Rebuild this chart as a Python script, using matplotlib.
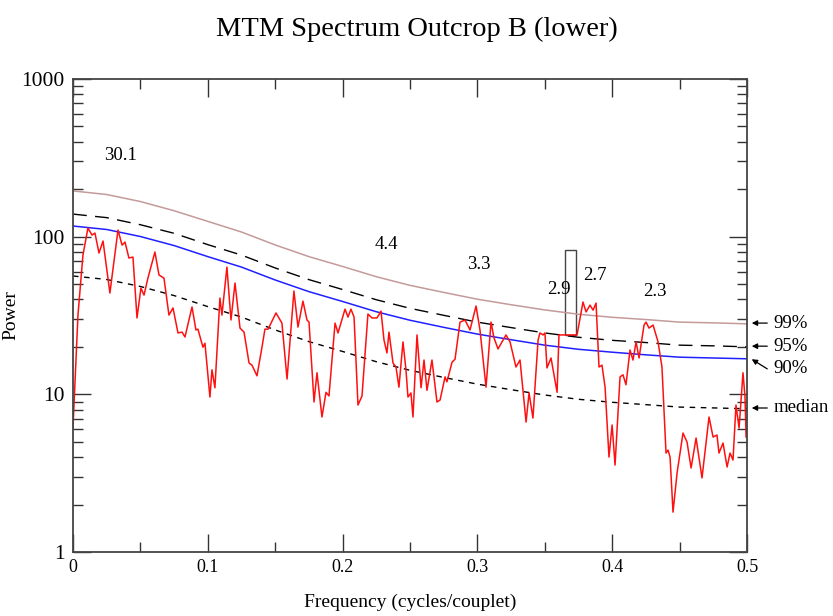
import numpy as np
import matplotlib
matplotlib.use("Agg")
import matplotlib.pyplot as plt
from matplotlib.ticker import FixedLocator, LogLocator, NullFormatter

plt.rcParams['font.family'] = ['Liberation Serif', 'DejaVu Serif']

# smooth red-noise confidence curves, read every 0.025 cycles/couplet
conf_freq = [0.0, 0.025, 0.05, 0.075, 0.1, 0.125, 0.15, 0.175, 0.2, 0.225, 0.25,
             0.275, 0.3, 0.325, 0.35, 0.375, 0.4, 0.425, 0.45, 0.475, 0.5]
median_lvl = [56.3, 53.5, 48.3, 42.3, 36.0, 30.9, 25.6, 21.6, 18.7, 16.1, 14.2,
              12.8, 11.6, 10.7, 9.9, 9.3, 8.9, 8.6, 8.3, 8.2, 8.1]
conf90 = [116.8, 111.0, 100.2, 87.8, 74.7, 64.1, 53.1, 44.8, 38.8, 33.4, 29.5,
          26.6, 24.1, 22.2, 20.5, 19.3, 18.5, 17.8, 17.2, 17.0, 16.8]
conf95 = [139, 132, 119, 105, 89, 76.4, 63.3, 53.4, 46.2, 39.8, 35.1,
          31.7, 28.7, 26.5, 24.5, 23.0, 22.0, 21.3, 20.5, 20.3, 20.0]
conf99 = [195, 185, 167, 146, 125, 107, 88.6, 74.7, 64.7, 55.7, 49.1,
          44.3, 40.1, 37.0, 34.3, 32.2, 30.8, 29.8, 28.7, 28.4, 28.0]

# MTM spectrum (red)
spec_freq = [
    0.0, 0.0037, 0.0074, 0.0111, 0.0141, 0.0163, 0.0193, 0.0223, 0.0274, 0.0334,
    0.0364, 0.0386, 0.0415, 0.0445, 0.0475, 0.0504, 0.0527, 0.0556, 0.0608, 0.0638,
    0.0675, 0.0712, 0.0742, 0.0779, 0.0809, 0.0831, 0.0883, 0.0912, 0.0927, 0.0964,
    0.0979, 0.1016, 0.1031, 0.1053, 0.1090, 0.1105, 0.1142, 0.1172, 0.1202, 0.1239,
    0.1269, 0.1306, 0.1328, 0.1365, 0.1402, 0.1424, 0.1447, 0.1506, 0.1550, 0.1588,
    0.1639, 0.1669, 0.1706, 0.1736, 0.1751, 0.1788, 0.1810, 0.1847, 0.1877, 0.1899,
    0.1944, 0.1966, 0.2018, 0.2040, 0.2062, 0.2085, 0.2114, 0.2144, 0.2188, 0.2218,
    0.2255, 0.2285, 0.2307, 0.2329, 0.2344, 0.2374, 0.2396, 0.2418, 0.2448, 0.2470,
    0.2485, 0.2507, 0.2522, 0.2552, 0.2582, 0.2604, 0.2626, 0.2663, 0.2700, 0.2723,
    0.2760, 0.2774, 0.2812, 0.2834, 0.2871, 0.2908, 0.2945, 0.2990, 0.3019, 0.3064,
    0.3101, 0.3123, 0.3153, 0.3212, 0.3242, 0.3286, 0.3316, 0.3361, 0.3383, 0.3412,
    0.3450, 0.3464, 0.3487, 0.3501, 0.3516, 0.3546, 0.3591, 0.3605, 0.3739, 0.3783,
    0.3806, 0.3835, 0.3858, 0.3880, 0.3902, 0.3924, 0.3947, 0.3976, 0.3999, 0.4021,
    0.4058, 0.4080, 0.4102, 0.4132, 0.4154, 0.4177, 0.4199, 0.4236, 0.4251, 0.4273,
    0.4303, 0.4340, 0.4369, 0.4384, 0.4399, 0.4414, 0.4429, 0.4451, 0.4481, 0.4525,
    0.4555, 0.4585, 0.4622, 0.4666, 0.4718, 0.4748, 0.4777, 0.4792, 0.4822, 0.4852,
    0.4874, 0.4896, 0.4918, 0.4941, 0.4970, 0.4985, 0.4993]
spec_power = [
    6.11, 31.8, 76.4, 113.4, 102.4, 105.4, 78.7, 93.8, 43.9, 110.1,
    88.4, 92.4, 73.2, 74.2, 30.5, 47.2, 42.6, 54.6, 79.9, 57.1,
    54.6, 31.8, 35.3, 24.5, 24.8, 23.1, 35.8, 25.6, 25.9, 19.9,
    21.1, 9.61, 14.3, 11.0, 40.8, 31.8, 64.1, 29.6, 50.8, 26.3,
    24.8, 15.8, 15.3, 13.1, 19.9, 25.9, 25.9, 32.8, 28.3, 12.5,
    45.2, 26.7, 39.0, 29.6, 28.7, 8.94, 13.7, 7.18, 10.3, 9.76,
    28.3, 24.5, 34.7, 30.9, 34.7, 30.9, 8.55, 9.76, 32.3, 30.5,
    30.5, 33.7, 22.1, 18.3, 24.8, 15.8, 14.9, 11.1, 21.5, 14.3,
    9.61, 10.2, 7.18, 23.8, 11.0, 16.5, 10.6, 16.5, 8.94, 9.20,
    12.9, 12.0, 16.0, 16.7, 28.7, 29.6, 25.6, 36.3, 25.6, 11.1,
    28.7, 22.8, 19.4, 23.8, 21.5, 14.9, 16.5, 6.67, 10.2, 7.07,
    22.1, 24.5, 23.8, 24.5, 14.7, 17.0, 10.3, 23.8, 23.8, 38.5,
    33.3, 36.8, 34.2, 37.9, 14.9, 15.3, 11.1, 4.00, 6.39, 3.56,
    12.9, 13.3, 11.5, 19.1, 16.5, 21.5, 17.0, 27.5, 28.7, 26.3,
    27.5, 21.5, 14.9, 7.95, 4.24, 4.43, 4.00, 1.79, 3.17, 5.68,
    4.98, 3.41, 5.28, 2.95, 7.18, 5.36, 5.52, 4.24, 4.91, 3.46,
    4.24, 3.83, 8.55, 6.11, 13.7, 9.61, 5.36]

# period labels (couplets) placed above their peaks
period_text = ['30.1', '4.4', '3.3', '2.9', '2.7', '2.3']
period_freq = [0.0352, 0.2326, 0.3012, 0.3605, 0.3872, 0.4314]
period_power = [329, 89.8, 67.0, 45.9, 57.1, 45.2]

# outlined box near 0.37
box_freq = 0.369
box_low = 23.8
box_high = 82.2

level_names = ['99%', '95%', '90%', 'median']
level_arrow_y = [28.3, 20.2, 16.7, 8.19]
level_text_y = [28.3, 20.2, 14.5, 8.19]

fig = plt.figure(figsize=(8.33, 6.16), dpi=100)
ax = fig.add_axes([0.0876, 0.1039, 0.8092, 0.7679])

ax.plot(conf_freq, conf99, color='#c49a9a', lw=1.1)
ax.plot(conf_freq, conf95, color='black', lw=1.0, dashes=(10, 6))
ax.plot(conf_freq, conf90, color='#2020ff', lw=1.1)
ax.plot(conf_freq, median_lvl, color='black', lw=1.0, dashes=(4, 4))
ax.plot(spec_freq, spec_power, color='#ff1010', lw=1.1)

ax.bar(box_freq, box_high - box_low, bottom=box_low, width=0.0078,
       fill=False, edgecolor='#444444', lw=1.0)

for t, fx, py in zip(period_text, period_freq, period_power):
    ax.text(fx, py, t, ha='center', va='center', fontsize=13.5)

tr = ax.get_yaxis_transform()
for name, ya, yt in zip(level_names, level_arrow_y, level_text_y):
    ax.annotate('', xy=(1.007, ya), xycoords=tr, xytext=(1.03, yt), textcoords=tr,
                arrowprops=dict(arrowstyle='-|>', color='black', lw=0.9,
                                mutation_scale=8, shrinkA=0, shrinkB=0),
                annotation_clip=False)
    ax.text(1.039, yt, name, transform=tr, ha='left', va='center', fontsize=13.5,
            clip_on=False)

ax.set_yscale('log')
ax.set_xlim(0, 0.5)
ax.set_ylim(1, 1000)
ax.xaxis.set_major_locator(FixedLocator([0, 0.1, 0.2, 0.3, 0.4, 0.5]))
ax.xaxis.set_minor_locator(FixedLocator([0.05, 0.15, 0.25, 0.35, 0.45]))
ax.set_xticklabels(['0', '0.1', '0.2', '0.3', '0.4', '0.5'])
ax.yaxis.set_major_locator(FixedLocator([1, 10, 100, 1000]))
ax.set_yticklabels(['1', '10', '100', '1000'])
ax.yaxis.set_minor_locator(LogLocator(base=10, subs=np.arange(2, 10)))
ax.yaxis.set_minor_formatter(NullFormatter())

ax.tick_params(which='both', direction='in', top=True, right=True,
               color='#333333', labelsize=13, pad=5)
ax.tick_params(axis='y', labelsize=15.5, pad=6)
ax.tick_params(which='major', length=13, width=1.0)
ax.tick_params(which='minor', length=7, width=1.0)
for s in ax.spines.values():
    s.set_color('#444444')
    s.set_linewidth(1.3)

ax.set_xlabel('Frequency (cycles/couplet)', fontsize=14)
ax.xaxis.set_label_coords(0.5, -0.089)
ax.set_ylabel('Power', fontsize=14)
ax.yaxis.set_label_coords(-0.08, 0.5)
fig.text(0.5, 0.953, 'MTM Spectrum Outcrop B (lower)', ha='center', va='center',
         fontsize=20.5)

fig.savefig('out.png', dpi=100)
